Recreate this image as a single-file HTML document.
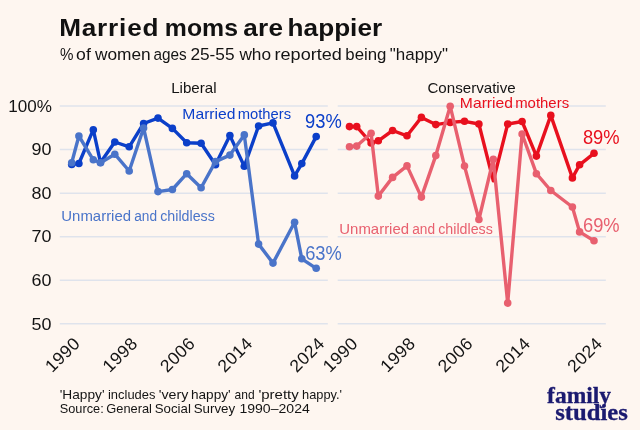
<!DOCTYPE html>
<html><head><meta charset="utf-8"><title>Married moms are happier</title>
<style>
html,body{margin:0;padding:0;background:#fef6f0;}
svg{display:block;font-family:"Liberation Sans",sans-serif;}
.logo{font-family:"Liberation Serif",serif;font-weight:bold;}
</style></head><body>
<svg width="640" height="430" viewBox="0 0 640 430">
<rect width="640" height="430" fill="#fef6f0"/>
<line x1="59.8" x2="327.8" y1="106.05" y2="106.05" stroke="#dfe3ec" stroke-width="1.5"/><line x1="337.7" x2="605.8" y1="106.05" y2="106.05" stroke="#dfe3ec" stroke-width="1.5"/><line x1="59.8" x2="327.8" y1="149.6" y2="149.6" stroke="#dfe3ec" stroke-width="1.5"/><line x1="337.7" x2="605.8" y1="149.6" y2="149.6" stroke="#dfe3ec" stroke-width="1.5"/><line x1="59.8" x2="327.8" y1="193.15" y2="193.15" stroke="#dfe3ec" stroke-width="1.5"/><line x1="337.7" x2="605.8" y1="193.15" y2="193.15" stroke="#dfe3ec" stroke-width="1.5"/><line x1="59.8" x2="327.8" y1="236.7" y2="236.7" stroke="#dfe3ec" stroke-width="1.5"/><line x1="337.7" x2="605.8" y1="236.7" y2="236.7" stroke="#dfe3ec" stroke-width="1.5"/><line x1="59.8" x2="327.8" y1="280.25" y2="280.25" stroke="#dfe3ec" stroke-width="1.5"/><line x1="337.7" x2="605.8" y1="280.25" y2="280.25" stroke="#dfe3ec" stroke-width="1.5"/><line x1="59.8" x2="327.8" y1="323.8" y2="323.8" stroke="#dfe3ec" stroke-width="1.5"/><line x1="337.7" x2="605.8" y1="323.8" y2="323.8" stroke="#dfe3ec" stroke-width="1.5"/>
<polyline points="71.7,164.4 78.9,163.5 93.3,129.7 100.5,162.5 114.8,142.0 129.2,146.8 143.6,123.5 158.0,118.1 172.4,128.4 186.7,142.8 201.1,143.3 215.5,164.7 229.9,135.6 244.3,166.2 258.6,126.0 273.0,122.9 294.6,175.9 301.8,163.6 316.2,136.6" fill="none" stroke="#0b3fc9" stroke-width="3.4" stroke-linejoin="round" stroke-linecap="round"/>
<circle cx="71.7" cy="164.4" r="3.8" fill="#0b3fc9"/><circle cx="78.9" cy="163.5" r="3.8" fill="#0b3fc9"/><circle cx="93.3" cy="129.7" r="3.8" fill="#0b3fc9"/><circle cx="100.5" cy="162.5" r="3.8" fill="#0b3fc9"/><circle cx="114.8" cy="142.0" r="3.8" fill="#0b3fc9"/><circle cx="129.2" cy="146.8" r="3.8" fill="#0b3fc9"/><circle cx="143.6" cy="123.5" r="3.8" fill="#0b3fc9"/><circle cx="158.0" cy="118.1" r="3.8" fill="#0b3fc9"/><circle cx="172.4" cy="128.4" r="3.8" fill="#0b3fc9"/><circle cx="186.7" cy="142.8" r="3.8" fill="#0b3fc9"/><circle cx="201.1" cy="143.3" r="3.8" fill="#0b3fc9"/><circle cx="215.5" cy="164.7" r="3.8" fill="#0b3fc9"/><circle cx="229.9" cy="135.6" r="3.8" fill="#0b3fc9"/><circle cx="244.3" cy="166.2" r="3.8" fill="#0b3fc9"/><circle cx="258.6" cy="126.0" r="3.8" fill="#0b3fc9"/><circle cx="273.0" cy="122.9" r="3.8" fill="#0b3fc9"/><circle cx="294.6" cy="175.9" r="3.8" fill="#0b3fc9"/><circle cx="301.8" cy="163.6" r="3.8" fill="#0b3fc9"/><circle cx="316.2" cy="136.6" r="3.8" fill="#0b3fc9"/>
<polyline points="71.7,162.8 78.9,136.0 93.3,159.8 100.5,162.8 114.8,154.2 129.2,171.0 143.6,128.0 158.0,191.6 172.4,189.5 186.7,173.7 201.1,187.7 215.5,161.6 229.9,155.1 244.3,134.9 258.6,244.1 273.0,263.1 294.6,222.3 301.8,258.8 316.2,268.3" fill="none" stroke="#4a74c9" stroke-width="3.4" stroke-linejoin="round" stroke-linecap="round"/>
<circle cx="71.7" cy="162.8" r="3.8" fill="#4a74c9"/><circle cx="78.9" cy="136.0" r="3.8" fill="#4a74c9"/><circle cx="93.3" cy="159.8" r="3.8" fill="#4a74c9"/><circle cx="100.5" cy="162.8" r="3.8" fill="#4a74c9"/><circle cx="114.8" cy="154.2" r="3.8" fill="#4a74c9"/><circle cx="129.2" cy="171.0" r="3.8" fill="#4a74c9"/><circle cx="143.6" cy="128.0" r="3.8" fill="#4a74c9"/><circle cx="158.0" cy="191.6" r="3.8" fill="#4a74c9"/><circle cx="172.4" cy="189.5" r="3.8" fill="#4a74c9"/><circle cx="186.7" cy="173.7" r="3.8" fill="#4a74c9"/><circle cx="201.1" cy="187.7" r="3.8" fill="#4a74c9"/><circle cx="215.5" cy="161.6" r="3.8" fill="#4a74c9"/><circle cx="229.9" cy="155.1" r="3.8" fill="#4a74c9"/><circle cx="244.3" cy="134.9" r="3.8" fill="#4a74c9"/><circle cx="258.6" cy="244.1" r="3.8" fill="#4a74c9"/><circle cx="273.0" cy="263.1" r="3.8" fill="#4a74c9"/><circle cx="294.6" cy="222.3" r="3.8" fill="#4a74c9"/><circle cx="301.8" cy="258.8" r="3.8" fill="#4a74c9"/><circle cx="316.2" cy="268.3" r="3.8" fill="#4a74c9"/>
<polyline points="349.5,126.6 356.7,126.6 371.1,143.0 378.3,140.8 392.6,130.5 407.0,135.8 421.4,117.4 435.8,124.6 450.2,122.4 464.5,121.3 478.9,124.0 493.3,180.8 507.7,124.0 522.1,121.5 536.4,156.1 550.8,115.4 572.4,177.9 579.6,164.8 594.0,153.3" fill="none" stroke="#e8101e" stroke-width="3.4" stroke-linejoin="round" stroke-linecap="round"/>
<circle cx="349.5" cy="126.6" r="3.8" fill="#e8101e"/><circle cx="356.7" cy="126.6" r="3.8" fill="#e8101e"/><circle cx="371.1" cy="143.0" r="3.8" fill="#e8101e"/><circle cx="378.3" cy="140.8" r="3.8" fill="#e8101e"/><circle cx="392.6" cy="130.5" r="3.8" fill="#e8101e"/><circle cx="407.0" cy="135.8" r="3.8" fill="#e8101e"/><circle cx="421.4" cy="117.4" r="3.8" fill="#e8101e"/><circle cx="435.8" cy="124.6" r="3.8" fill="#e8101e"/><circle cx="450.2" cy="122.4" r="3.8" fill="#e8101e"/><circle cx="464.5" cy="121.3" r="3.8" fill="#e8101e"/><circle cx="478.9" cy="124.0" r="3.8" fill="#e8101e"/><circle cx="507.7" cy="124.0" r="3.8" fill="#e8101e"/><circle cx="522.1" cy="121.5" r="3.8" fill="#e8101e"/><circle cx="536.4" cy="156.1" r="3.8" fill="#e8101e"/><circle cx="550.8" cy="115.4" r="3.8" fill="#e8101e"/><circle cx="572.4" cy="177.9" r="3.8" fill="#e8101e"/><circle cx="579.6" cy="164.8" r="3.8" fill="#e8101e"/><circle cx="594.0" cy="153.3" r="3.8" fill="#e8101e"/>
<polyline points="349.5,146.7 356.7,146.1 371.1,133.3 378.3,196.1 392.6,177.4 407.0,165.9 421.4,197.1 435.8,155.6 450.2,106.2 464.5,166.1 478.9,219.5 493.3,159.3 507.7,303.1 522.1,134.0 536.4,173.7 550.8,190.5 572.4,207.0 579.6,231.9 594.0,240.7" fill="none" stroke="#e8606f" stroke-width="3.4" stroke-linejoin="round" stroke-linecap="round"/>
<circle cx="349.5" cy="146.7" r="3.8" fill="#e8606f"/><circle cx="356.7" cy="146.1" r="3.8" fill="#e8606f"/><circle cx="371.1" cy="133.3" r="3.8" fill="#e8606f"/><circle cx="378.3" cy="196.1" r="3.8" fill="#e8606f"/><circle cx="392.6" cy="177.4" r="3.8" fill="#e8606f"/><circle cx="407.0" cy="165.9" r="3.8" fill="#e8606f"/><circle cx="421.4" cy="197.1" r="3.8" fill="#e8606f"/><circle cx="435.8" cy="155.6" r="3.8" fill="#e8606f"/><circle cx="450.2" cy="106.2" r="3.8" fill="#e8606f"/><circle cx="464.5" cy="166.1" r="3.8" fill="#e8606f"/><circle cx="478.9" cy="219.5" r="3.8" fill="#e8606f"/><circle cx="493.3" cy="159.3" r="3.8" fill="#e8606f"/><circle cx="507.7" cy="303.1" r="3.8" fill="#e8606f"/><circle cx="522.1" cy="134.0" r="3.8" fill="#e8606f"/><circle cx="536.4" cy="173.7" r="3.8" fill="#e8606f"/><circle cx="550.8" cy="190.5" r="3.8" fill="#e8606f"/><circle cx="572.4" cy="207.0" r="3.8" fill="#e8606f"/><circle cx="579.6" cy="231.9" r="3.8" fill="#e8606f"/><circle cx="594.0" cy="240.7" r="3.8" fill="#e8606f"/>
<text transform="translate(81.2,344.4) rotate(-45)" font-size="17.5" letter-spacing="0.5" text-anchor="end" fill="#141414">1990</text><text transform="translate(138.7,344.4) rotate(-45)" font-size="17.5" letter-spacing="0.5" text-anchor="end" fill="#141414">1998</text><text transform="translate(196.2,344.4) rotate(-45)" font-size="17.5" letter-spacing="0.5" text-anchor="end" fill="#141414">2006</text><text transform="translate(253.8,344.4) rotate(-45)" font-size="17.5" letter-spacing="0.5" text-anchor="end" fill="#141414">2014</text><text transform="translate(325.7,344.4) rotate(-45)" font-size="17.5" letter-spacing="0.5" text-anchor="end" fill="#141414">2024</text><text transform="translate(359.0,344.4) rotate(-45)" font-size="17.5" letter-spacing="0.5" text-anchor="end" fill="#141414">1990</text><text transform="translate(416.5,344.4) rotate(-45)" font-size="17.5" letter-spacing="0.5" text-anchor="end" fill="#141414">1998</text><text transform="translate(474.0,344.4) rotate(-45)" font-size="17.5" letter-spacing="0.5" text-anchor="end" fill="#141414">2006</text><text transform="translate(531.6,344.4) rotate(-45)" font-size="17.5" letter-spacing="0.5" text-anchor="end" fill="#141414">2014</text><text transform="translate(603.5,344.4) rotate(-45)" font-size="17.5" letter-spacing="0.5" text-anchor="end" fill="#141414">2024</text>
<text transform="translate(59.16,35.5) scale(1.0900,1)" font-size="24" font-weight="bold" letter-spacing="0.751" fill="#111111">Married</text>
<text transform="translate(164.85,35.5) scale(1.0344,1)" font-size="24" font-weight="bold" fill="#111111">moms</text>
<text transform="translate(243.28,35.5) scale(1.0900,1)" font-size="24" font-weight="bold" letter-spacing="0.181" fill="#111111">are</text>
<text transform="translate(287.59,35.5) scale(1.0900,1)" font-size="24" font-weight="bold" letter-spacing="0.015" fill="#111111">happier</text>
<text transform="translate(60.04,59.5) scale(0.9185,1)" font-size="16.5" fill="#141414">%</text>
<text transform="translate(76.10,59.5) scale(1.0692,1)" font-size="16.5" fill="#141414">of</text>
<text transform="translate(95.00,59.5) scale(1.0481,1)" font-size="16.5" fill="#141414">women</text>
<text transform="translate(153.40,59.5) scale(0.9304,1)" font-size="16.5" fill="#141414">ages</text>
<text transform="translate(190.41,59.5) scale(1.0479,1)" font-size="16.5" fill="#141414">25-55</text>
<text transform="translate(239.40,59.5) scale(1.0475,1)" font-size="16.5" fill="#141414">who</text>
<text transform="translate(274.50,59.5) scale(1.0970,1)" font-size="16.5" fill="#141414">reported</text>
<text transform="translate(345.28,59.5) scale(1.0196,1)" font-size="16.5" fill="#141414">being</text>
<text transform="translate(389.73,59.5) scale(1.0299,1)" font-size="16.5" fill="#141414">&quot;happy&quot;</text>
<text transform="translate(171.15,93) scale(1.0818,1)" font-size="14" fill="#141414">Liberal</text>
<text transform="translate(427.44,93) scale(1.0810,1)" font-size="14" fill="#141414">Conservative</text>
<text transform="translate(182.35,118.5) scale(1.1215,1)" font-size="14" fill="#0b3fc9">Married</text>
<text transform="translate(237.69,118.5) scale(1.0561,1)" font-size="14" fill="#0b3fc9">mothers</text>
<text transform="translate(459.85,108) scale(1.1215,1)" font-size="14" fill="#e8101e">Married</text>
<text transform="translate(515.18,108) scale(1.0663,1)" font-size="14" fill="#e8101e">mothers</text>
<text transform="translate(61.33,220.7) scale(1.0677,1)" font-size="14" fill="#4a74c9">Unmarried</text>
<text transform="translate(134.21,220.7) scale(0.9773,1)" font-size="14" fill="#4a74c9">and</text>
<text transform="translate(160.19,220.7) scale(1.0180,1)" font-size="14" fill="#4a74c9">childless</text>
<text transform="translate(339.33,233.7) scale(1.0677,1)" font-size="14" fill="#e8606f">Unmarried</text>
<text transform="translate(412.21,233.7) scale(0.9773,1)" font-size="14" fill="#e8606f">and</text>
<text transform="translate(438.19,233.7) scale(1.0180,1)" font-size="14" fill="#e8606f">childless</text>
<text transform="translate(305.06,127.8) scale(0.9423,1)" font-size="19.5" fill="#0b3fc9">93%</text>
<text transform="translate(305.16,259.6) scale(0.9396,1)" font-size="19.5" fill="#4a74c9">63%</text>
<text transform="translate(582.89,144.3) scale(0.9413,1)" font-size="19.5" fill="#e8101e">89%</text>
<text transform="translate(582.96,231.8) scale(0.9396,1)" font-size="19.5" fill="#e8606f">69%</text>
<text transform="translate(8.20,111.75) scale(1.0360,1)" font-size="16.5" fill="#141414">100%</text>
<text transform="translate(31.48,155.29999999999998) scale(1.0882,1)" font-size="16.5" fill="#141414">90</text>
<text transform="translate(31.48,198.85) scale(1.0882,1)" font-size="16.5" fill="#141414">80</text>
<text transform="translate(31.48,242.39999999999998) scale(1.0882,1)" font-size="16.5" fill="#141414">70</text>
<text transform="translate(31.48,285.95) scale(1.0882,1)" font-size="16.5" fill="#141414">60</text>
<text transform="translate(31.48,329.5) scale(1.0882,1)" font-size="16.5" fill="#141414">50</text>
<text transform="translate(59.71,398.75) scale(1.0549,1)" font-size="13" fill="#141414">&#x27;Happy&#x27;</text>
<text transform="translate(108.00,398.75) scale(0.9946,1)" font-size="13" fill="#141414">includes</text>
<text transform="translate(158.68,398.75) scale(1.0952,1)" font-size="13" fill="#141414">&#x27;very</text>
<text transform="translate(190.95,398.75) scale(1.0483,1)" font-size="13" fill="#141414">happy&#x27;</text>
<text transform="translate(234.54,398.75) scale(0.9259,1)" font-size="13" fill="#141414">and</text>
<text transform="translate(258.39,398.75) scale(1.1533,1)" font-size="13" fill="#141414">&#x27;pretty</text>
<text transform="translate(302.01,398.75) scale(0.9871,1)" font-size="13" fill="#141414">happy.&#x27;</text>
<text transform="translate(59.76,412.5) scale(0.9825,1)" font-size="13" fill="#141414">Source:</text>
<text transform="translate(106.26,412.5) scale(0.9888,1)" font-size="13" fill="#141414">General</text>
<text transform="translate(154.73,412.5) scale(1.0222,1)" font-size="13" fill="#141414">Social</text>
<text transform="translate(193.73,412.5) scale(1.0253,1)" font-size="13" fill="#141414">Survey</text>
<text transform="translate(239.42,412.5) scale(1.0824,1)" font-size="13" fill="#141414">1990–2024</text>
<text class="logo" stroke="#1b1a70" stroke-width="0.3" transform="translate(547.05,402.8) scale(1.0000,1)" font-size="23.5" font-weight="bold" fill="#1b1a70">family</text>
<text class="logo" stroke="#1b1a70" stroke-width="0.3" transform="translate(555.21,420) scale(1.0509,1)" font-size="23.5" font-weight="bold" fill="#1b1a70">studies</text>
</svg>
</body></html>
